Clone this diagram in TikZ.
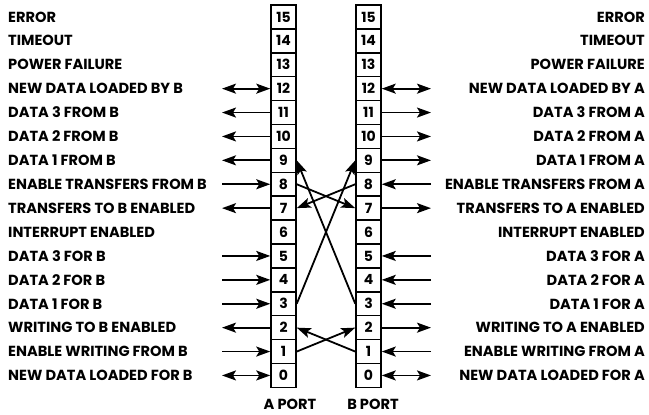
\documentclass[tikz,border=0pt]{standalone}
\usepackage{fontspec}
\setmainfont{Poppins}
\usetikzlibrary{arrows.meta}
\begin{document}
\begin{tikzpicture}[x=1pt,y=1pt,
  cell/.style={draw,line width=1.5pt,minimum width=25pt,minimum height=23.9pt,inner sep=0pt,font=\fontsize{14}{14}\selectfont\bfseries},
  lab/.style={inner sep=0pt,font=\fontsize{14.6}{15}\selectfont\bfseries},
  sig/.style={line width=1.8pt},
  tip/.style={-{Stealth[length=14pt,width=10pt,inset=3pt]}},
  dtip/.style={{Stealth[length=14pt,width=10pt,inset=3pt]}-{Stealth[length=14pt,width=10pt,inset=3pt]}}]
\useasboundingbox (0,-415) rectangle (649,0);
\foreach \k in {0,...,15}{
  \pgfmathsetmacro\yy{-(5+(15.5-\k)*23.9)}
  \node[cell] (a\k) at (283.5,\yy) {\k};
  \node[cell] (b\k) at (368.5,\yy) {\k};
  \coordinate (la\k) at (222,\yy);
  \coordinate (rb\k) at (431,\yy);
}
\foreach \k/\t in {15/ERROR,14/TIMEOUT,13/POWER FAILURE,12/NEW DATA LOADED BY B,11/DATA 3 FROM B,10/DATA 2 FROM B,9/DATA 1 FROM B,8/ENABLE TRANSFERS FROM B,7/TRANSFERS TO B ENABLED,6/INTERRUPT ENABLED,5/DATA 3 FOR B,4/DATA 2 FOR B,3/DATA 1 FOR B,2/WRITING TO B ENABLED,1/ENABLE WRITING FROM B,0/NEW DATA LOADED FOR B}{
  \pgfmathsetmacro\yy{-(5+(15.5-\k)*23.9)}
  \node[lab,anchor=west] (ll\k) at (8,\yy) {\t};
}
\foreach \k/\t in {15/ERROR,14/TIMEOUT,13/POWER FAILURE,12/NEW DATA LOADED BY A,11/DATA 3 FROM A,10/DATA 2 FROM A,9/DATA 1 FROM A,8/ENABLE TRANSFERS FROM A,7/TRANSFERS TO A ENABLED,6/INTERRUPT ENABLED,5/DATA 3 FOR A,4/DATA 2 FOR A,3/DATA 1 FOR A,2/WRITING TO A ENABLED,1/ENABLE WRITING FROM A,0/NEW DATA LOADED FOR A}{
  \pgfmathsetmacro\yy{-(5+(15.5-\k)*23.9)}
  \node[lab,anchor=east] (rl\k) at (645,\yy) {\t};
}
\foreach \k in {11,10,9,7,2}{
  \draw[sig,tip] (a\k.west) -- (la\k);
  \draw[sig,tip] (b\k.east) -- (rb\k);
}
\foreach \k in {8,5,4,3,1}{
  \draw[sig,tip] (la\k) -- (a\k.west);
  \draw[sig,tip] (rb\k) -- (b\k.east);
}
\foreach \k in {12,0}{
  \draw[sig,dtip] (la\k) -- (a\k.west);
  \draw[sig,dtip] (rb\k) -- (b\k.east);
}
\draw[sig,tip] (a8.east) -- (b7.west);
\draw[sig,tip] (b8.west) -- (a7.east);
\draw[sig,tip] (a3.east) -- (b9.west);
\draw[sig,tip] (b3.west) -- (a9.east);
\draw[sig,tip] (a1.east) -- (b2.west);
\draw[sig,tip] (b1.west) -- (a2.east);
\node[lab] (pa) at (290,-404) {A PORT};
\node[lab] (pb) at (373,-404) {B PORT};
\end{tikzpicture}
\end{document}
